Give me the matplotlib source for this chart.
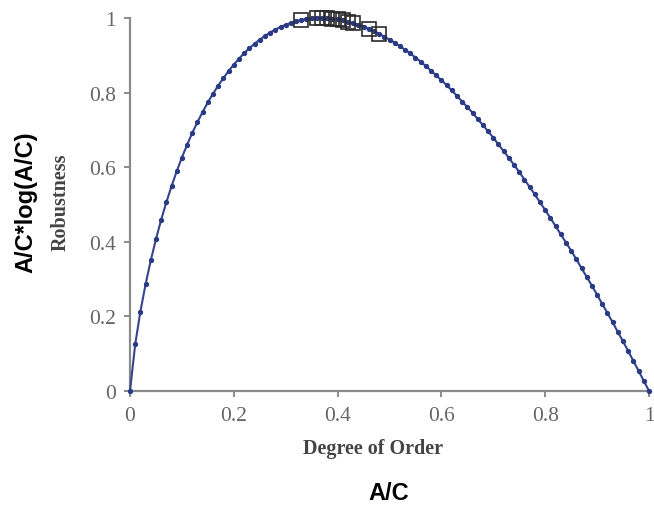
import matplotlib
matplotlib.use("Agg")
import matplotlib.pyplot as plt

# ==================== 数据 ====================

order = [i / 100 for i in range(101)]
robustness = [
    0.000, 0.125, 0.213, 0.286, 0.350, 0.407, 0.459, 0.506, 0.549, 0.589,
    0.626, 0.660, 0.692, 0.721, 0.748, 0.774, 0.797, 0.819, 0.839, 0.858,
    0.875, 0.891, 0.906, 0.919, 0.931, 0.942, 0.952, 0.961, 0.969, 0.976,
    0.982, 0.987, 0.991, 0.995, 0.997, 0.999, 1.000, 1.000, 0.999, 0.998,
    0.996, 0.994, 0.990, 0.987, 0.982, 0.977, 0.971, 0.965, 0.958, 0.950,
    0.942, 0.934, 0.924, 0.915, 0.905, 0.894, 0.883, 0.871, 0.859, 0.846,
    0.833, 0.820, 0.806, 0.791, 0.776, 0.761, 0.746, 0.729, 0.713, 0.696,
    0.679, 0.661, 0.643, 0.625, 0.606, 0.587, 0.567, 0.547, 0.527, 0.506,
    0.485, 0.464, 0.442, 0.420, 0.398, 0.376, 0.353, 0.329, 0.306, 0.282,
    0.258, 0.233, 0.209, 0.184, 0.158, 0.133, 0.107, 0.080, 0.054, 0.027,
    0.000,
]

# 方框标记的点
box_x = [0.33, 0.36, 0.37, 0.38, 0.39, 0.40, 0.41, 0.42, 0.43, 0.46, 0.48]
box_y = [0.995, 1.000, 1.000, 0.999, 0.998, 0.996, 0.994, 0.990, 0.987, 0.971, 0.958]

x_ticks = [0, 0.2, 0.4, 0.6, 0.8, 1]
x_labels = ["0", "0.2", "0.4", "0.6", "0.8", "1"]
y_ticks = [0, 0.2, 0.4, 0.6, 0.8, 1]
y_labels = ["0", "0.2", "0.4", "0.6", "0.8", "1"]

# ==================== 绘图 ====================

fig = plt.figure(figsize=(6.54, 5.06), dpi=100)
ax = fig.add_axes([130 / 654, 1 - 392 / 506, 519 / 654, 373 / 506])

ax.plot(order, robustness, color="#34448f", linewidth=1.5,
        marker="o", markersize=2.8, markerfacecolor="#2a3a85",
        markeredgecolor="#2a3a85", clip_on=False, zorder=3)
ax.plot(box_x, box_y, linestyle="none", marker="s", markersize=10,
        markerfacecolor="none", markeredgecolor="#2b2b2b",
        markeredgewidth=1.2, clip_on=False, zorder=4)

ax.set_xlim(0, 1)
ax.set_ylim(0, 1)
ax.set_xticks(x_ticks)
ax.set_xticklabels(x_labels)
ax.set_yticks(y_ticks)
ax.set_yticklabels(y_labels)

for side in ["top", "right"]:
    ax.spines[side].set_visible(False)
for side in ["left", "bottom"]:
    ax.spines[side].set_color("#8a8a8a")
    ax.spines[side].set_linewidth(1.6)

ax.tick_params(direction="out", length=4.3, width=1.4, color="#8a8a8a",
               labelcolor="#666666", labelsize=15.5)
ax.tick_params(axis="y", pad=6)
ax.tick_params(axis="x", pad=6.5)
for lab in ax.get_xticklabels() + ax.get_yticklabels():
    lab.set_fontfamily("Liberation Serif")

fig.text(373 / 654, 1 - 449 / 506, "Degree of Order", ha="center", va="center",
         fontsize=14.5, fontweight="bold", family="Liberation Serif", color="#444444")
fig.text(61 / 654, 1 - 202 / 506, "Robustness", ha="center", va="center",
         rotation=90, fontsize=14.5, fontweight="bold", family="Liberation Serif",
         color="#444444")

fig.text(389 / 654, 1 - 494 / 506, "A/C", ha="center", va="center",
         fontsize=17, fontweight="bold", family="Liberation Sans", color="black")
fig.text(26 / 654, 1 - 202 / 506, "A/C*log(A/C)", ha="center", va="center",
         rotation=90, fontsize=17, fontweight="bold", family="Liberation Sans",
         color="black")

plt.savefig("out.png", dpi=100)
plt.close()
